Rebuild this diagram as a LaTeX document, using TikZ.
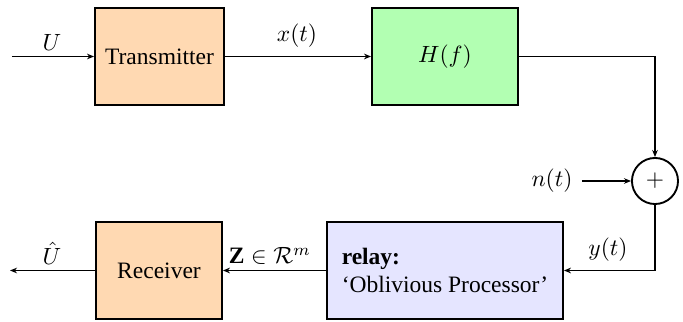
\documentclass[tikz,border=0pt]{standalone}
\usepackage{fontspec}
\setmainfont{Liberation Serif}
\usetikzlibrary{arrows.meta}
\begin{document}
\begin{tikzpicture}[x=0.4255pt,y=-0.4255pt,
  blockbox/.style={draw,thick,minimum width=54.9pt,minimum height=41.3pt,inner sep=0pt},
  conn/.style={thick,-{Stealth[length=3pt,width=2.4pt]}},
  lbl/.style={inner sep=0pt}]
\useasboundingbox (0,0) rectangle (683,322);
\node[blockbox,fill=orange!30] (tx) at (159.5,56.5) {Transmitter};
\node[blockbox,fill=green!30,minimum width=62.1pt] (hf) at (445,56.5) {$H(f)$};
\node[draw,thick,circle,minimum size=19.6pt,inner sep=0pt] (sum) at (655,181) {$+$};
\node[blockbox,fill=blue!10,minimum width=100.4pt,align=left] (relay) at (445,270.5) {\textbf{relay:}\\`Oblivious Processor'};
\node[blockbox,fill=orange!30,minimum width=53.6pt] (rx) at (159,270.5) {Receiver};
\coordinate (in) at (12,56.5);
\coordinate (out) at (10,270.5);
\coordinate (nin) at (582,181);
\coordinate (c1) at (655,56.5);
\coordinate (c2) at (655,270.5);
\node[lbl] (nlab) at (552,181) {$n(t)$};
\node[lbl] (ulab) at (52,42) {$U$};
\node[lbl] (xlab) at (297,36) {$x(t)$};
\node[lbl] (ylab) at (608,250) {$y(t)$};
\node[lbl] (zlab) at (270,256) {$\mathbf{Z}\in\mathcal{R}^m$};
\node[lbl] (uhlab) at (52,253) {$\hat{U}$};
\draw[conn] (in) -- (tx);
\draw[conn] (tx) -- (hf);
\draw[conn] (hf.east) -- (c1) -- (sum.north);
\draw[conn] (nin) -- (sum.west);
\draw[conn] (sum.south) -- (c2) -- (relay.east);
\draw[conn] (relay) -- (rx);
\draw[conn] (rx) -- (out);
\end{tikzpicture}
\end{document}
